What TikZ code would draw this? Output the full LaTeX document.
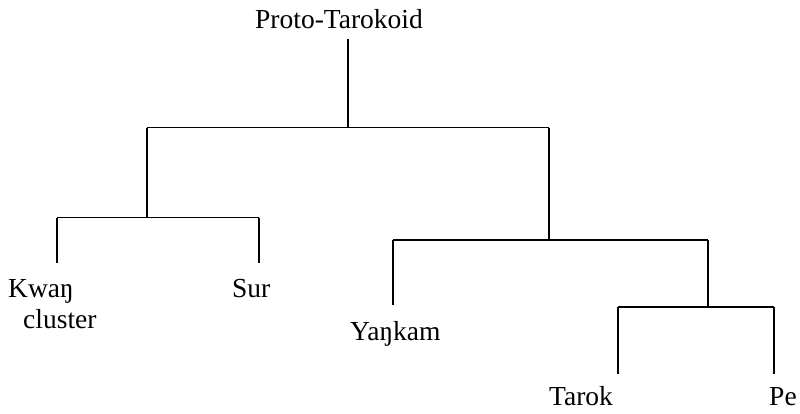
\documentclass[tikz,border=0pt]{standalone}
\usepackage{fontspec}
\setmainfont{Liberation Serif}
\begin{document}
\begin{tikzpicture}[x=1pt,y=-1pt,
  branch/.style={line width=1.7pt},
  lbl/.style={inner sep=0pt,anchor=base west,font=\fontsize{27.5}{31}\selectfont}]
\useasboundingbox (0,0) rectangle (800,413);
% labels
\node[lbl] (root) at (255,28) {Proto-Tarokoid};
\node[lbl,align=left] (kwan) at (8,328) {Kwaŋ\\\hspace*{15pt}cluster};
\node[lbl] (sur) at (232,297) {Sur};
\node[lbl] (yankam) at (350,340) {Yaŋkam};
\node[lbl] (tarok) at (549,405) {Tarok};
\node[lbl] (pe) at (769,405) {Pe};
% junctions and ends
\coordinate (r0) at (348,39);
\coordinate (r1) at (348,127.5);
\coordinate (aL) at (147,127.5);
\coordinate (aR) at (549,127.5);
\coordinate (bM) at (147,217.5);
\coordinate (bL) at (57,217.5);
\coordinate (bR) at (259,217.5);
\coordinate (kwanE) at (57,263);
\coordinate (surE) at (259,263);
\coordinate (cM) at (549,240);
\coordinate (cL) at (393,240);
\coordinate (cR) at (708,240);
\coordinate (yanE) at (393,305);
\coordinate (dM) at (708,307);
\coordinate (dL) at (618,307);
\coordinate (dR) at (774,307);
\coordinate (tarE) at (618,374);
\coordinate (peE) at (774,374);
% branches
\draw[branch] (r0) -- (r1);
\draw[branch] (aL) -- (aR);
\draw[branch] (aL) -- (bM);
\draw[branch] (bL) -- (bR);
\draw[branch] (bL) -- (kwanE);
\draw[branch] (bR) -- (surE);
\draw[branch] (aR) -- (cM);
\draw[branch] (cL) -- (cR);
\draw[branch] (cL) -- (yanE);
\draw[branch] (cR) -- (dM);
\draw[branch] (dL) -- (dR);
\draw[branch] (dL) -- (tarE);
\draw[branch] (dR) -- (peE);
\end{tikzpicture}
\end{document}
